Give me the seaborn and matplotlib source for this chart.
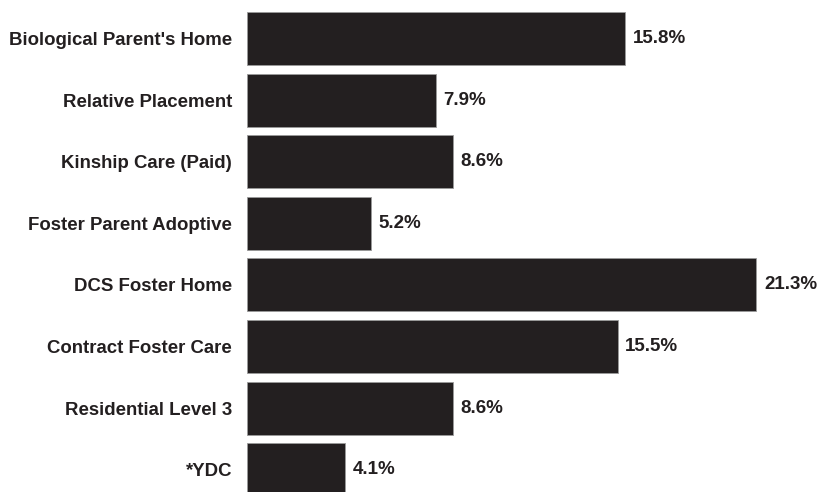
import matplotlib
matplotlib.use("Agg")
import matplotlib.pyplot as plt
import seaborn as sns
import pandas as pd

categories = [
    "Biological Parent's Home",
    "Relative Placement",
    "Kinship Care (Paid)",
    "Foster Parent Adoptive",
    "DCS Foster Home",
    "Contract Foster Care",
    "Residential Level 3",
    "*YDC",
]
percent = [15.8, 7.9, 8.6, 5.2, 21.3, 15.5, 8.6, 4.1]

df = pd.DataFrame({"placement": categories, "pct": percent})

sns.set_theme(style="white")
plt.rcParams['font.family'] = ['Liberation Sans', 'DejaVu Sans']

dark = "#231f20"

fig = plt.figure(figsize=(8.17, 4.92), dpi=100)
ax = fig.add_axes([0.302, -0.0173, 0.70, 1.0016])

sns.barplot(data=df, y="placement", x="pct", color=dark, width=0.86,
            edgecolor="#9a9a9a", linewidth=0.6, ax=ax, saturation=1)

ax.bar_label(ax.containers[0], labels=[f"{v:.1f}%" for v in percent],
             padding=5.5, fontsize=13.5, fontweight="bold", color=dark)

ax.set_xlim(0, 23.9)
ax.set_ylim(7.5, -0.5)
ax.set_xlabel("")
ax.set_ylabel("")
ax.set_xticks([])
ax.tick_params(axis="y", length=0, pad=10.5)
for lbl in ax.get_yticklabels():
    lbl.set_fontsize(13.4)
    lbl.set_fontweight("bold")
    lbl.set_color(dark)
sns.despine(ax=ax, left=True, bottom=True)

fig.savefig("out.png", dpi=100)
